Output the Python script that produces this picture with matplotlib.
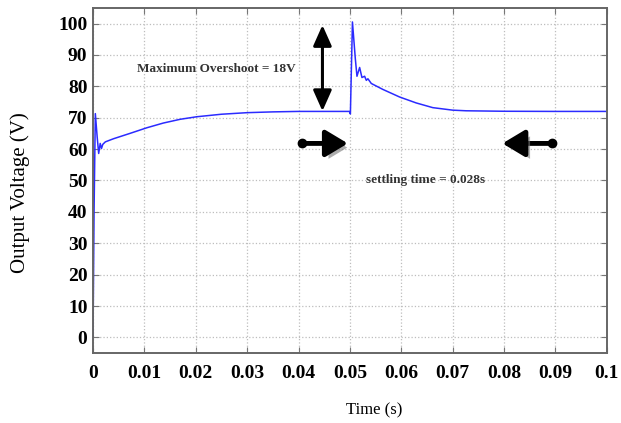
import numpy as np
import matplotlib.pyplot as plt
import matplotlib.patheffects as pe

# output voltage of the converter
time_s = [0, 0.0002, 0.00045, 0.0008, 0.0011, 0.0014, 0.00165, 0.0019, 0.0024,
          0.004, 0.0072, 0.0105, 0.0137, 0.017, 0.0202, 0.025, 0.03, 0.035,
          0.04, 0.045, 0.0499, 0.0501, 0.0505, 0.05106, 0.05138, 0.0519,
          0.05235, 0.05287, 0.0532, 0.05351, 0.05417, 0.05643, 0.05967,
          0.06291, 0.06614, 0.07002, 0.07262, 0.08, 0.09, 0.1]
voltage = [0, 40, 71.3, 64, 58.6, 61.8, 60.2, 61.5, 62.3,
           63.3, 65.0, 66.8, 68.3, 69.5, 70.3, 71.1, 71.6, 71.85,
           72.0, 72.0, 72.0, 71.2, 100.5, 88.8, 83.2, 86.0,
           82.8, 83.2, 81.9, 82.4, 80.9, 79.0, 76.6,
           74.7, 73.2, 72.4, 72.2, 72.05, 72.0, 72.0]

x_ticks = [0, 0.01, 0.02, 0.03, 0.04, 0.05, 0.06, 0.07, 0.08, 0.09, 0.1]
x_labels = ["0", "0.01", "0.02", "0.03", "0.04", "0.05", "0.06", "0.07",
            "0.08", "0.09", "0.1"]
y_ticks = list(range(0, 101, 10))

SERIF = "Liberation Serif"

fig = plt.figure(figsize=(6.21, 4.23), dpi=100)
ax = fig.add_axes([0.1498, 0.166, 0.977 - 0.1498, 0.980 - 0.166])

ax.plot(time_s, voltage, color="#2b2bff", linewidth=1.1)

ax.set_xlim(0, 0.1)
ax.set_ylim(-4.9, 104.8)
ax.set_xticks(x_ticks)
ax.set_xticklabels(x_labels)
ax.set_yticks(y_ticks)
ax.grid(True, linestyle=":", color="#bdbdbd", linewidth=0.9)

for s in ax.spines.values():
    s.set_color("#666666")
    s.set_linewidth(1.4)
ax.tick_params(direction="in", length=4, color="#777777", top=True, right=True)
ax.tick_params(axis="x", pad=9)
ax.tick_params(axis="y", pad=4)
for lab in ax.get_xticklabels() + ax.get_yticklabels():
    lab.set_fontfamily(SERIF)
    lab.set_fontweight("bold")
    lab.set_fontsize(14)

fig.text(0.033, 1 - 193 / 423, "Output Voltage (V)", rotation=90,
         ha="center", va="center", family=SERIF, fontsize=15)
fig.text(374 / 621, 1 - 410 / 423, "Time (s)", ha="center", va="center",
         family=SERIF, fontsize=12)

# annotations
ax.text(0.0241, 85.4, "Maximum Overshoot = 18V", ha="center", va="center",
        family=SERIF, fontweight="bold", fontsize=9.5, color="#333333")
ax.text(0.0647, 50.0, "settling time = 0.028s", ha="center", va="center",
        family=SERIF, fontweight="bold", fontsize=9.5, color="#333333")

ax.annotate("", xy=(0.04466, 99.5), xytext=(0.04466, 72.1),
            arrowprops=dict(arrowstyle="<|-|>,head_length=0.9,head_width=0.4",
                            lw=2.2, color="black", mutation_scale=14,
                            shrinkA=0, shrinkB=0))

shadow = [pe.withSimplePatchShadow(offset=(3, -3), shadow_rgbFace="#777777",
                                   alpha=0.6)]
for tail, tip in [(0.0406, 0.0496), (0.0893, 0.0797)]:
    ax.annotate("", xy=(tip, 61.8), xytext=(tail, 61.8),
                arrowprops=dict(arrowstyle="-|>,head_length=0.75,head_width=0.45",
                                lw=3.5, color="black", mutation_scale=18,
                                shrinkA=0, shrinkB=0, path_effects=shadow))
    ax.plot([tail], [61.8], "o", color="black", markersize=6)

fig.savefig("out.png", dpi=100)
